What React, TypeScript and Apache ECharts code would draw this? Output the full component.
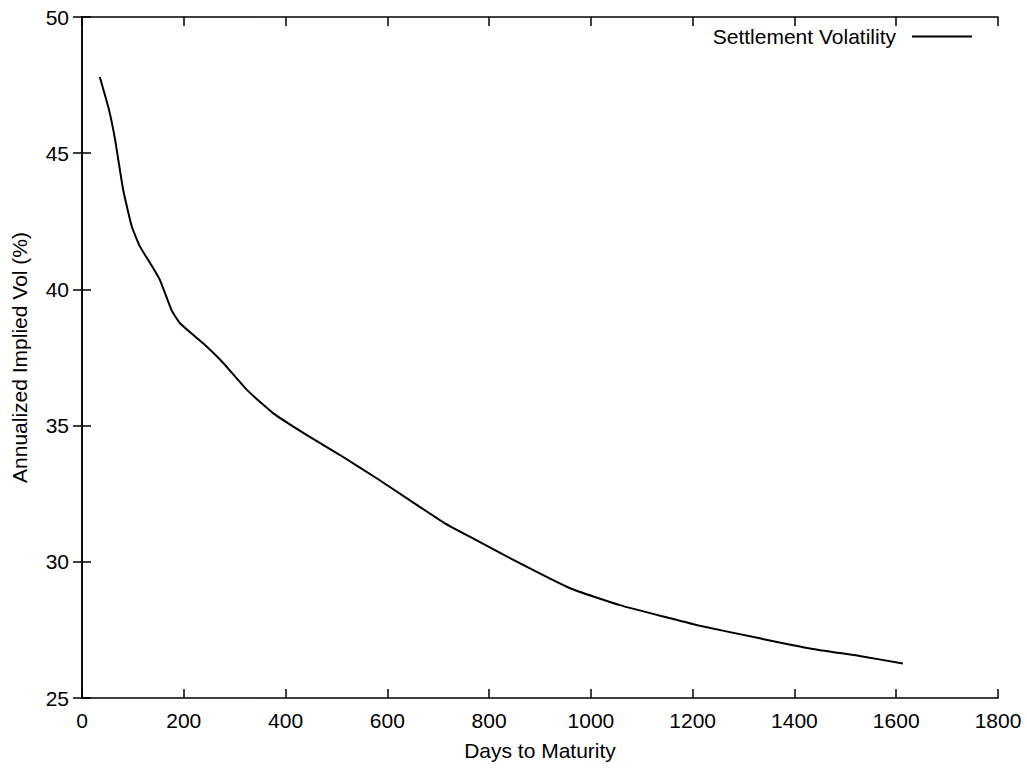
import React, { useEffect, useRef } from "react";
import * as echarts from "echarts";

const seriesName = "Settlement Volatility";
const days = [35, 53, 65, 81, 98, 114, 134, 153, 176, 193, 238, 278, 324, 376, 442, 507, 582, 710, 762, 861, 959, 1057, 1155, 1214, 1332, 1430, 1528, 1613];
const vols = [47.8, 46.6, 45.5, 43.65, 42.3, 41.57, 40.96, 40.35, 39.24, 38.75, 38.02, 37.29, 36.31, 35.45, 34.65, 33.92, 33.03, 31.45, 30.92, 29.94, 29.03, 28.41, 27.93, 27.65, 27.19, 26.82, 26.54, 26.27];
const xTitle = "Days to Maturity";
const yTitle = "Annualized Implied Vol (%)";

export default function App() {
  const ref = useRef<HTMLDivElement>(null);
  useEffect(() => {
    if (!ref.current) return;
    const chart = echarts.init(ref.current, null, { renderer: "svg" });
    const font = "'Liberation Sans', Arial, Helvetica, sans-serif";
    const fs = 21;
    const axisCommon = {
      axisLine: { show: true, lineStyle: { color: "#000", width: 1.5 } },
      axisTick: { show: true, inside: true, length: 9, lineStyle: { color: "#000", width: 1.5 } },
      splitLine: { show: false },
    };
    chart.setOption({
      animation: false,
      backgroundColor: "#fff",
      textStyle: { fontFamily: font, color: "#000" },
      grid: { left: 82, right: 29, top: 17, bottom: 72, outerBoundsMode: "none", containLabel: false },
      legend: {
        right: 50,
        top: 21,
        align: "right",
        icon: "rect",
        itemWidth: 60,
        itemHeight: 2,
        data: [seriesName],
        textStyle: { fontSize: fs, color: "#000", fontFamily: font, padding: [0, 11, 0, 0] },
      },
      xAxis: [
        {
          type: "value",
          min: 0,
          max: 1800,
          interval: 200,
          name: xTitle,
          nameLocation: "middle",
          nameGap: 42,
          nameTextStyle: { fontSize: fs, color: "#000", fontFamily: font },
          axisLabel: { fontSize: fs, color: "#000", margin: 12, fontFamily: font, formatter: (v: number) => String(v) },
          ...axisCommon,
        },
        {
          type: "value",
          position: "top",
          min: 0,
          max: 1800,
          interval: 200,
          axisLabel: { show: false },
          ...axisCommon,
        },
      ],
      yAxis: [
        {
          type: "value",
          min: 25,
          max: 50,
          interval: 5,
          name: yTitle,
          nameLocation: "middle",
          nameGap: 52,
          nameTextStyle: { fontSize: fs, color: "#000", fontFamily: font },
          axisLabel: { fontSize: fs, color: "#000", margin: 13, fontFamily: font, formatter: (v: number) => String(v) },
          ...axisCommon,
        },
        {
          type: "value",
          position: "right",
          min: 25,
          max: 50,
          interval: 5,
          axisLabel: { show: false },
          ...axisCommon,
        },
      ],
      series: [
        {
          name: seriesName,
          type: "line",
          data: days.map((d, i) => [d, vols[i]]),
          showSymbol: false,
          symbol: "none",
          smooth: 0.15,
          lineStyle: { color: "#000", width: 2 },
          itemStyle: { color: "#000" },
        },
      ],
    });
    return () => chart.dispose();
  }, []);
  return <div ref={ref} style={{ position: "fixed", left: 0, top: 0, width: 1027, height: 770 }} />;
}
